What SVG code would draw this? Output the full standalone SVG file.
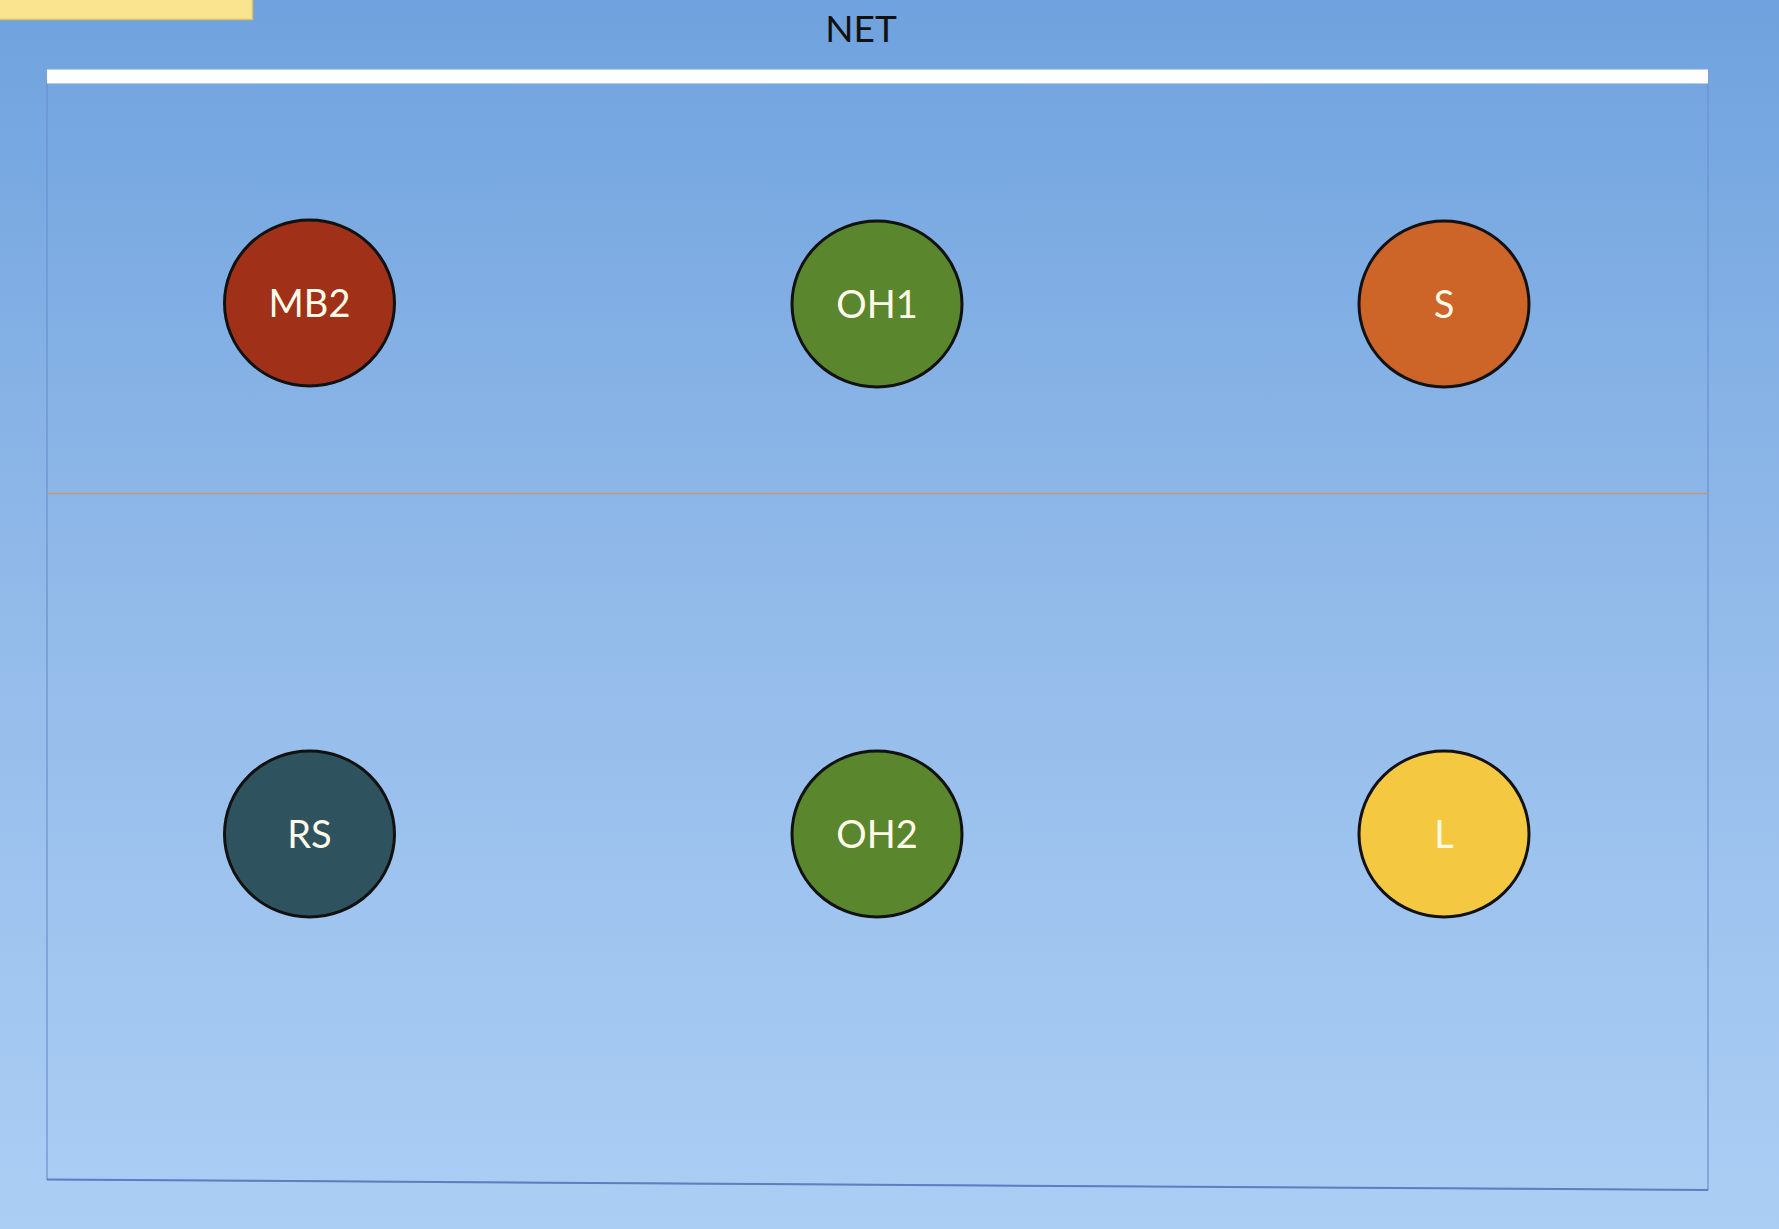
<svg xmlns="http://www.w3.org/2000/svg" width="1779" height="1229" viewBox="0 0 1779 1229">
  <defs>
    <linearGradient id="bg" x1="0" y1="0" x2="0" y2="1">
      <stop offset="0" stop-color="#6fa2de"/>
      <stop offset="0.5" stop-color="#93bbea"/>
      <stop offset="1" stop-color="#abcef4"/>
    </linearGradient>
  </defs>
  <style>
    .player ellipse { stroke: #111111; stroke-width: 3; }
    .player text { font-family: Lato, "Open Sans", sans-serif; font-size: 38px; fill: #fdfbe8; text-anchor: middle; }
    .label { font-family: Lato, "Open Sans", sans-serif; font-size: 37px; fill: #111111; text-anchor: middle; }
  </style>
  <rect x="0" y="0" width="1779" height="1229" fill="url(#bg)"/>
  <rect x="0" y="0" width="253" height="20" fill="#fbe48f"/>
  <line x1="0" y1="19.5" x2="253" y2="19.5" stroke="#d8c070" stroke-width="1.5"/>
  <line x1="252.5" y1="0" x2="252.5" y2="20" stroke="#d8c070" stroke-width="1.5"/>
  <text class="label" x="861" y="42">NET</text>
  <g id="court">
    <polygon points="47,83 1708,83 1708,1190 47,1179.5" fill="none" stroke="#6b8fd2" stroke-width="1.2"/>
    <line x1="47" y1="1179.5" x2="1708" y2="1190" stroke="#5d7fbf" stroke-width="2"/>
    <rect x="47" y="69.5" width="1661" height="14" fill="#ffffff"/>
    <line x1="47" y1="493.5" x2="1708" y2="493.5" stroke="#c4957f" stroke-width="1.5"/>
  </g>
  <g id="connectors"></g>
  <g id="MB2" class="player">
    <ellipse cx="309.5" cy="303" rx="85" ry="83" fill="#a03118"/>
    <text x="309.5" y="317">MB2</text>
  </g>
  <g id="OH1" class="player">
    <ellipse cx="877" cy="304" rx="85" ry="83" fill="#5a862e"/>
    <text x="877" y="318">OH1</text>
  </g>
  <g id="S" class="player">
    <ellipse cx="1444" cy="304" rx="85" ry="83" fill="#cd6428"/>
    <text x="1444" y="318">S</text>
  </g>
  <g id="RS" class="player">
    <ellipse cx="309.5" cy="834" rx="85" ry="83" fill="#2e535e"/>
    <text x="309.5" y="848">RS</text>
  </g>
  <g id="OH2" class="player">
    <ellipse cx="877" cy="834" rx="85" ry="83" fill="#5a862e"/>
    <text x="877" y="848">OH2</text>
  </g>
  <g id="L" class="player">
    <ellipse cx="1444" cy="834" rx="85" ry="83" fill="#f5c842"/>
    <text x="1444" y="848">L</text>
  </g>
</svg>
